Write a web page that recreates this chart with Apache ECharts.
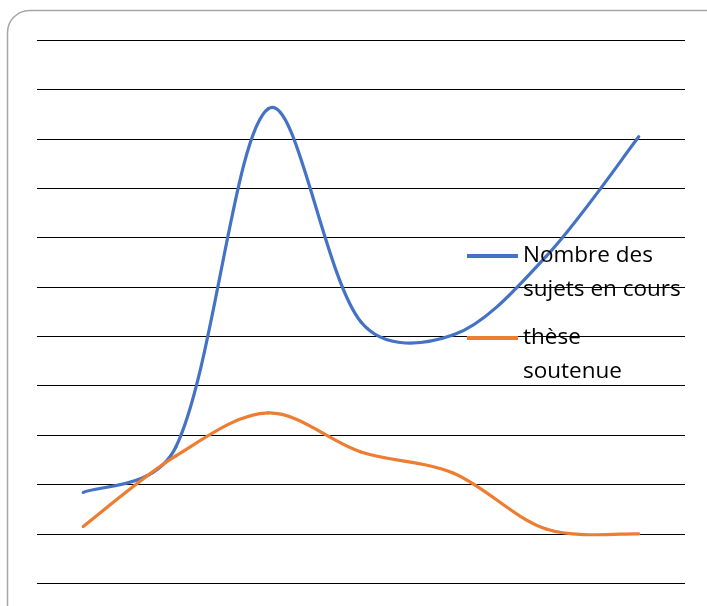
<!DOCTYPE html>
<html>
<head>
<meta charset="utf-8">
<script src="https://cdn.jsdelivr.net/npm/echarts@6/dist/echarts.min.js"></script>
<style>html,body{margin:0;padding:0;background:#fff;}#c{width:707px;height:606px;}</style>
</head>
<body>
<div id="c"></div>
<script>
var categories = ['1', '2', '3', '4', '5', '6', '7'];
var seriesNames = ['Nombre des sujets en cours', 'thèse soutenue'];
var legendLabels = ['Nombre des\nsujets en cours', 'thèse\nsoutenue'];
var sujetsEnCours = [1.84, 2.76, 9.61, 5.29, 5.03, 6.62, 9.04];
var theseSoutenue = [1.15, 2.58, 3.45, 2.66, 2.23, 1.10, 1.00];
var yMin = 0, yMax = 11, yStep = 1;
var colors = ['#4472C4', '#ED7D31'];

// Excel-like smoothed line drawn through the axis scales (api.coord)
function smoothSeries(name, values, color) {
  var n = values.length;
  return {
    name: name, type: 'custom', silent: true,
    itemStyle: {color: color},
    data: values.map(function (v, i) { return [i, v]; }),
    renderItem: function (params, api) {
      var i = params.dataIndex;
      if (i >= n - 1) return null;
      function P(k) { k = Math.max(0, Math.min(n - 1, k)); return api.coord([k, values[k]]); }
      function dist(a, b) { return Math.sqrt((a[0]-b[0])*(a[0]-b[0]) + (a[1]-b[1])*(a[1]-b[1])); }
      function cp(k, dir) {
        var cur = P(k), prev = P(k - 1), next = P(k + 1);
        var vx = next[0] - prev[0], vy = next[1] - prev[1];
        var f = 1 / 6;
        if (k > 0 && k < n - 1) {
          var lp = dist(prev, cur), ln = dist(cur, next);
          var r = (dir > 0 ? ln : lp) / (lp + ln);
          f = (1 / 6) * Math.sqrt(2 * r);
        }
        return [cur[0] + dir * vx * f, cur[1] + dir * vy * f];
      }
      var a = P(i), b = P(i + 1), c1 = cp(i, 1), c2 = cp(i + 1, -1);
      return {
        type: 'bezierCurve',
        shape: {x1: a[0], y1: a[1], x2: b[0], y2: b[1], cpx1: c1[0], cpy1: c1[1], cpx2: c2[0], cpy2: c2[1]},
        style: {stroke: color, fill: 'none', lineWidth: 3.2, lineCap: 'round'}
      };
    }
  };
}

var chart = echarts.init(document.getElementById('c'), null, {renderer: 'canvas'});
var iconPath = 'path://M0,0h51v4h-51zM0,38h0.01v0h-0.01z';
function legendFor(i, top) {
  return {
    data: [{name: seriesNames[i], itemStyle: {color: colors[i]}}],
    left: 467, top: top, padding: 0,
    itemWidth: 51, itemHeight: 38,
    icon: iconPath,
    formatter: function (nm) { return legendLabels[seriesNames.indexOf(nm)]; },
    textStyle: {fontSize: 22.5, lineHeight: 34, color: '#000', fontFamily: 'Open Sans'},
    selectedMode: false
  };
}
chart.setOption({
  animation: false,
  backgroundColor: '#fff',
  graphic: [{
    type: 'rect', silent: true, z: -1,
    shape: {x: 7.5, y: 10.5, width: 720, height: 620, r: 22},
    style: {fill: 'none', stroke: '#a6a6a6', lineWidth: 1.5}
  }],
  grid: {left: 37, right: 22, top: 40, bottom: 22.7, containLabel: false},
  legend: [legendFor(0, 239), legendFor(1, 321)],
  xAxis: {
    type: 'category', data: categories, boundaryGap: true,
    axisLine: {show: false}, axisTick: {show: false}, axisLabel: {show: false}
  },
  yAxis: {
    type: 'value', min: yMin, max: yMax, interval: yStep,
    axisLine: {show: false}, axisTick: {show: false}, axisLabel: {show: false},
    splitLine: {show: true, lineStyle: {color: '#000', width: 1.2}}
  },
  series: [
    smoothSeries(seriesNames[0], sujetsEnCours, colors[0]),
    smoothSeries(seriesNames[1], theseSoutenue, colors[1])
  ]
});
</script>
</body>
</html>
